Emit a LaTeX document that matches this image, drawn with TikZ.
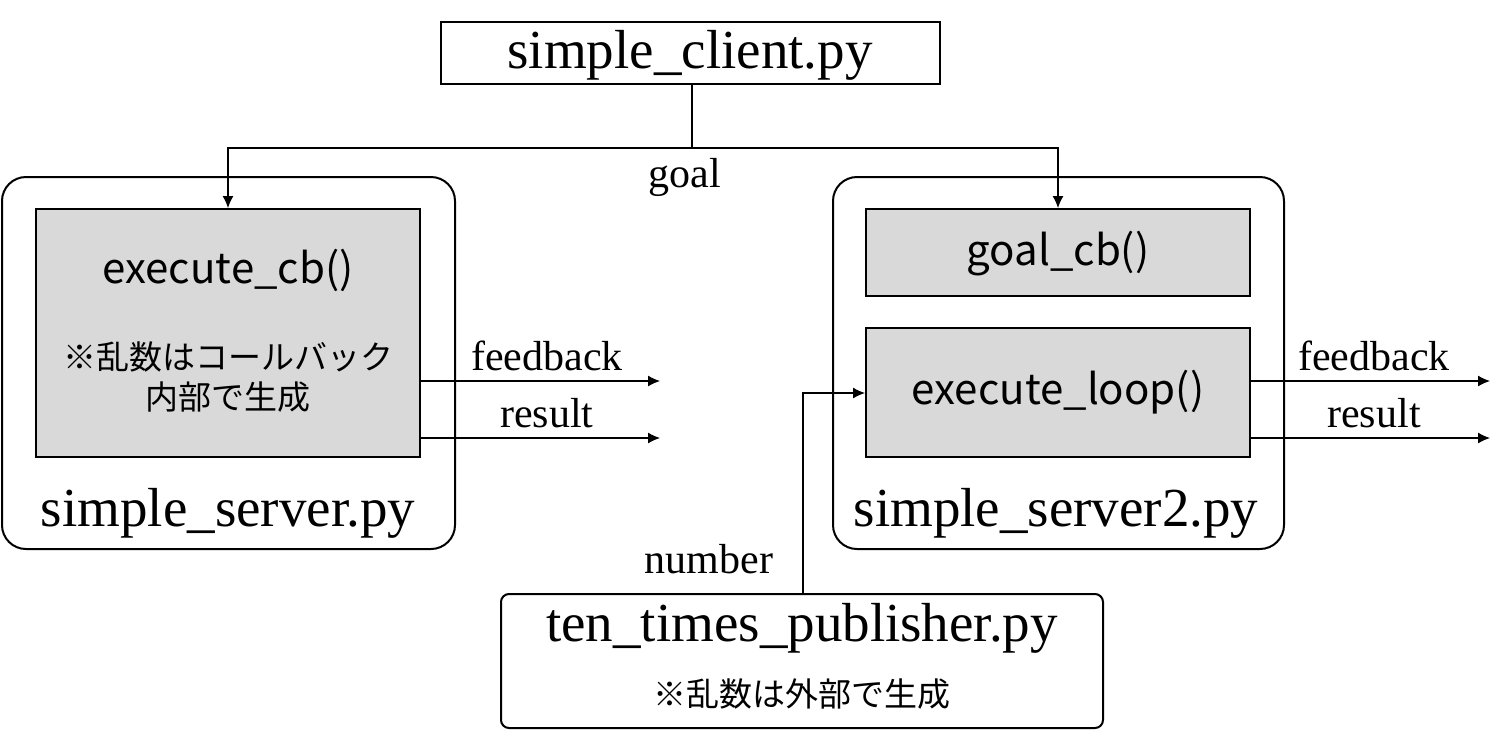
\documentclass[tikz,border=0pt]{standalone}
\usepackage{fontspec}
\setmainfont{Liberation Serif}
\newfontfamily\jpsans{Noto Sans CJK JP}
\usetikzlibrary{arrows.meta}
\definecolor{boxgray}{RGB}{217,217,217}
\tikzstyle{file}=[draw, line width=1pt, rounded corners=12pt, inner sep=0pt]
\tikzstyle{func}=[draw, line width=1pt, fill=boxgray, inner sep=0pt, minimum width=192pt]
\tikzstyle{link}=[line width=0.6pt, -{Latex[length=6pt,width=5.5pt]}]
\tikzstyle{big}=[font=\fontsize{27.5}{32}\selectfont, anchor=base]
\tikzstyle{lbl}=[font=\fontsize{21}{24}\selectfont, anchor=base]
\tikzstyle{code}=[font=\jpsans\fontsize{21}{24}\selectfont, anchor=base]
\tikzstyle{note}=[font=\jpsans\fontsize{16.5}{20}\selectfont, align=center]

\begin{document}
\begin{tikzpicture}[x=0.5pt, y=-0.5pt]
    \useasboundingbox[fill=white] (0,0) rectangle (1501,741);
% Files
    \node[draw, line width=1pt, minimum width=249.5pt, minimum height=31pt] (client) at (690.5,53) {};
    \node[file, minimum width=226.5pt, minimum height=186pt] (server) at (228.5,363) {};
    \node[file, minimum width=225.5pt, minimum height=186pt] (server2) at (1058.5,363) {};
    \node[file, rounded corners=4pt, minimum width=301pt, minimum height=67pt] (pub) at (802,661) {};
% Callbacks
    \node[func, minimum height=124pt] (cb) at (228,333) {};
    \node[func, minimum height=43.5pt] (goalcb) at (1058,252.5) {};
    \node[func, minimum height=64.5pt] (loop) at (1058,392.5) {};
% Texts
    \node[big] (clienttxt) at (690,68) {simple\_client.py};
    \node[big] (servertxt) at (228,526) {simple\_server.py};
    \node[big] (server2txt) at (1056,526) {simple\_server2.py};
    \node[big] (pubtxt) at (802,641) {ten\_times\_publisher.py};
    \node[code] (cbtxt) at (228,283) {execute\_cb()};
    \node[code] (goalcbtxt) at (1058,265) {goal\_cb()};
    \node[code] (looptxt) at (1058,404) {execute\_loop()};
    \node[note] (cbnote) at (228,377) {※乱数はコールバック\\内部で生成};
    \node[note] (pubnote) at (802,694) {※乱数は外部で生成};
% Goal
    \coordinate (split) at (692,148);
    \draw[line width=0.6pt] (client.south -| split) -- (split);
    \draw[link] (split) -| (cb.north);
    \draw[link] (split) -| (goalcb.north);
    \node[lbl] (goal) at (685,187) {goal};
% Feedback and result
    \coordinate (fb1) at (660,381);
    \coordinate (rs1) at (660,438);
    \coordinate (fb2) at (1490,381);
    \coordinate (rs2) at (1490,438);
    \draw[link] (cb.east |- fb1) -- (fb1);
    \draw[link] (cb.east |- rs1) -- (rs1);
    \draw[link] (loop.east |- fb2) -- (fb2);
    \draw[link] (loop.east |- rs2) -- (rs2);
    \node[lbl] (fbtxt1) at (547,370) {feedback};
    \node[lbl] (rstxt1) at (547,427) {result};
    \node[lbl] (fbtxt2) at (1374,370) {feedback};
    \node[lbl] (rstxt2) at (1374,427) {result};
% Number
    \coordinate (bend) at (803,393);
    \draw[link] (pub.north -| bend) -- (bend) -- (loop.west |- bend);
    \node[lbl] (number) at (709,573) {number};
\end{tikzpicture}
\end{document}
